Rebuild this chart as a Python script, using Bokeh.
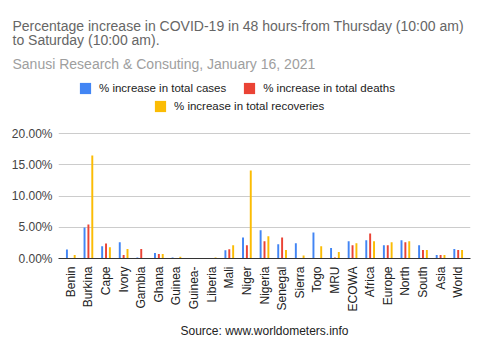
from bokeh.plotting import figure
from bokeh.models import (FactorRange, Range1d, NumeralTickFormatter, Legend,
                          LegendItem, ColumnDataSource, FixedTicker, Title)
from bokeh.transform import dodge
from bokeh.embed import file_html
from bokeh.resources import INLINE
from math import pi

categories = ["Benin", "Burkina", "Cape", "Ivory", "Gambia", "Ghana", "Guinea",
              "Guinea-", "Liberia", "Mali", "Niger", "Nigeria", "Senegal", "Sierra",
              "Togo", "MRU", "ECOWA", "Africa", "Europe", "North", "South", "Asia", "World"]
cases = [1.44, 4.95, 1.97, 2.60, 0.15, 0.90, 0.15, 0.02, 0.10, 1.33, 3.35, 4.52, 2.28,
         2.45, 4.15, 1.70, 2.76, 2.92, 2.13, 2.92, 2.13, 0.58, 1.53]
deaths = [0.0, 5.43, 2.40, 0.58, 1.53, 0.74, 0.0, 0.0, 0.0, 1.49, 2.13, 2.76, 3.35,
          0.0, 0.0, 0.15, 2.13, 4.00, 2.13, 2.60, 1.38, 0.58, 1.38]
recoveries = [0.58, 16.5, 1.80, 1.53, 0.10, 0.74, 0.30, 0.02, 0.15, 2.13, 14.1, 3.56,
              1.38, 0.48, 1.97, 1.06, 2.45, 2.76, 2.60, 2.76, 1.38, 0.58, 1.38]
y_ticks = [0, 0.05, 0.10, 0.15, 0.20]

title1 = "Percentage increase in COVID-19 in 48  hours-from Thursday  (10:00 am)"
title2 = "to Saturday (10:00 am)."
subtitle = "Sanusi Research & Consuting, January 16, 2021"
source_text = "Source: www.worldometers.info"
series_names = ["% increase in total cases", "% increase in total deaths",
                "% increase in total recoveries"]
colors = ["#4285F4", "#EA4335", "#FBBC04"]

src = ColumnDataSource(dict(
    cat=categories,
    cases=[v / 100 for v in cases],
    deaths=[v / 100 for v in deaths],
    rec=[v / 100 for v in recoveries],
))

FONT = "Liberation Sans"

# frame spans the legend area too; the 0-20% part is 125px tall
FRAME_H = 182
p = figure(frame_width=412, frame_height=FRAME_H, output_backend="svg",
           toolbar_location=None, title_location=None,
           x_range=FactorRange(*categories, range_padding=0.0173),
           y_range=Range1d(0, 0.2 * FRAME_H / 125),
           min_border_left=58, min_border_right=2, min_border_top=76,
           min_border_bottom=0)
p.outline_line_color = None
p.background_fill_color = "white"
p.border_fill_color = "white"

r1 = p.vbar(x=dodge("cat", -0.22, range=p.x_range), top="cases", width=0.11,
            source=src, color=colors[0], line_color=None)
r2 = p.vbar(x=dodge("cat", 0.0, range=p.x_range), top="deaths", width=0.11,
            source=src, color=colors[1], line_color=None)
r3 = p.vbar(x=dodge("cat", 0.22, range=p.x_range), top="rec", width=0.11,
            source=src, color=colors[2], line_color=None)

p.yaxis.ticker = FixedTicker(ticks=y_ticks)
p.yaxis.formatter = NumeralTickFormatter(format="0.00%")
p.yaxis.axis_line_color = None
p.yaxis.major_tick_line_color = None
p.yaxis.minor_tick_line_color = None
p.yaxis.major_tick_out = 0
p.yaxis.minor_tick_out = 0
p.yaxis.major_label_text_font = FONT
p.yaxis.major_label_text_font_size = "12px"
p.yaxis.major_label_text_color = "#444444"
p.yaxis.major_label_standoff = 6

p.xaxis.axis_line_color = "#333333"
p.xaxis.major_tick_line_color = None
p.xaxis.minor_tick_line_color = None
p.xaxis.major_tick_out = 0
p.xaxis.minor_tick_out = 0
p.xaxis.major_label_orientation = pi / 2
p.xaxis.major_label_text_font = FONT
p.xaxis.major_label_text_font_size = "12px"
p.xaxis.major_label_text_color = "#222222"
p.xaxis.major_label_standoff = 8

p.xgrid.grid_line_color = None
p.ygrid.grid_line_color = "#cccccc"


def make_legend(items, loc):
    return Legend(items=items, location=loc, orientation="horizontal",
                  glyph_width=14, glyph_height=14, label_height=14,
                  label_text_font=FONT, label_text_font_size="11.5px",
                  label_text_color="#222222", label_standoff=7, spacing=16,
                  padding=0, margin=0, border_line_color=None,
                  background_fill_alpha=0)


def make_title(text, color, standoff, size="14px", align="left", offset=-46,
               lh=0.9):
    return Title(text=text, align=align, offset=offset, standoff=standoff,
                 text_font=FONT, text_font_size=size, text_color=color,
                 text_font_style="normal", text_line_height=lh)


# legends inside the (extended) frame, positions relative to frame bottom-left
p.add_layout(make_legend([LegendItem(label=series_names[0], renderers=[r1]),
                          LegendItem(label=series_names[1], renderers=[r2])],
                         (20, 163)))
p.add_layout(make_legend([LegendItem(label=series_names[2], renderers=[r3])],
                         (95, 145)))

# above panels: closest to frame first
p.add_layout(make_title(subtitle, "#9e9e9e", 10, lh=0.7), "above")
p.add_layout(make_title(title1 + "\n" + title2, "#666666", 0), "above")

p.add_layout(make_title(source_text, "#222222", 14, size="12px", align="center",
                        offset=0, lh=1.0), "below")

open("out.html", "w").write(file_html(p, INLINE))
